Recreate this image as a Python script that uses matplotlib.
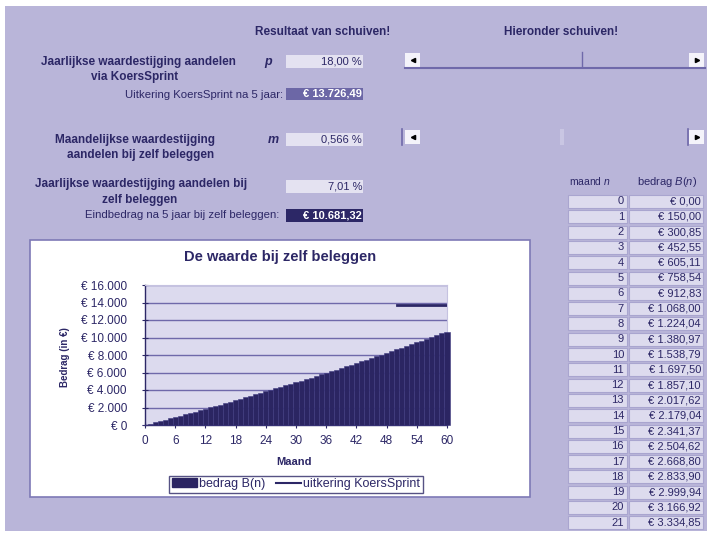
import matplotlib
matplotlib.use("Agg")
import matplotlib.pyplot as plt
from matplotlib.patches import Rectangle, Patch
from matplotlib.lines import Line2D
from matplotlib.ticker import FuncFormatter

plt.rcParams['font.family'] = ['Liberation Sans', 'DejaVu Sans']
plt.rcParams['mathtext.fontset'] = 'custom'
plt.rcParams['mathtext.it'] = 'Liberation Sans:italic'
plt.rcParams['mathtext.rm'] = 'Liberation Sans'

# data
maand = list(range(61))
bedrag = [0.00, 150.00, 300.85, 452.55, 605.11, 758.54, 912.83, 1068.00, 1224.04,
          1380.97, 1538.79, 1697.50, 1857.10, 2017.62, 2179.04, 2341.37, 2504.62,
          2668.80, 2833.90, 2999.94, 3166.92, 3334.85, 3503.72, 3673.55, 3844.35,
          4016.10, 4188.84, 4362.54, 4537.24, 4712.92, 4889.59, 5067.27, 5245.95,
          5425.64, 5606.35, 5788.08, 5970.84, 6154.64, 6339.47, 6525.35, 6712.29,
          6900.28, 7089.34, 7279.46, 7470.66, 7662.95, 7856.32, 8050.79, 8246.35,
          8443.03, 8640.82, 8839.72, 9039.76, 9240.92, 9443.23, 9646.67, 9851.27,
          10057.03, 10263.96, 10472.05, 10681.32]
uitkering_maand = [50, 60]
uitkering = [13726.49, 13726.49]
yticks = list(range(0, 16001, 2000))
xticks = list(range(0, 61, 6))
tabel_rijen = 22

p_tekst = "18,00 %"
m_tekst = "0,566 %"
jaar_tekst = "7,01 %"
uitkering_tekst = "€ 13.726,49"
eind_tekst = "€ 10.681,32"

BG = '#b9b5d9'
CEL = '#e4e2f1'
NAVY = '#2c2766'
BAR = '#2b2562'


def euro(v, dec=2):
    s = f"{v:,.{dec}f}".replace(",", "X").replace(".", ",").replace("X", ".")
    return "€ " + s


W, H = 715, 533
fig = plt.figure(figsize=(W / 100, H / 100), dpi=100, facecolor='white')
bg = fig.add_axes([0, 0, 1, 1])
bg.set_xlim(0, W)
bg.set_ylim(H, 0)
bg.axis('off')

bg.add_patch(Rectangle((5, 6), 702, 525, facecolor=BG, edgecolor='none'))

# headings
bg.text(323, 32, "Resultaat van schuiven!", ha='center', va='center', fontsize=8.5, weight='bold', color=NAVY)
bg.text(561, 32, "Hieronder schuiven!", ha='center', va='center', fontsize=8.5, weight='bold', color=NAVY)

# labels left
lbl = dict(ha='center', va='center', fontsize=8.5, weight='bold', color=NAVY)
bg.text(138, 62, "Jaarlijkse waardestijging aandelen", **lbl)
bg.text(135, 77, "via KoersSprint", **lbl)
bg.text(135, 140, "Maandelijkse waardestijging", **lbl)
bg.text(141, 155, "aandelen bij zelf beleggen", **lbl)
bg.text(141, 184, "Jaarlijkse waardestijging aandelen bij", **lbl)
bg.text(140, 200, "zelf beleggen", **lbl)
bg.text(268, 62, "p", ha='center', va='center', fontsize=9, weight='bold', style='italic', color=NAVY)
bg.text(273, 140, "m", ha='center', va='center', fontsize=9, weight='bold', style='italic', color=NAVY)
bg.text(283, 95, "Uitkering KoersSprint na 5 jaar:", ha='right', va='center', fontsize=8.2, color=NAVY)
bg.text(279, 215, "Eindbedrag na 5 jaar bij zelf beleggen:", ha='right', va='center', fontsize=8.2, color=NAVY)

# value cells
for y0, txt in [(55, p_tekst), (133, m_tekst), (180, jaar_tekst)]:
    bg.add_patch(Rectangle((286, y0), 77, 13, facecolor=CEL, edgecolor='none'))
    bg.text(362, y0 + 6.5, txt, ha='right', va='center', fontsize=8, color=NAVY)
bg.add_patch(Rectangle((286, 88), 77, 12, facecolor='#6c67a6', edgecolor='none'))
bg.text(362, 94, uitkering_tekst, ha='right', va='center', fontsize=8, weight='bold', color='white')
bg.add_patch(Rectangle((286, 209), 77, 13, facecolor=NAVY, edgecolor='none'))
bg.text(362, 215.5, eind_tekst, ha='right', va='center', fontsize=8, weight='bold', color='white')

# scrollbars
bg.plot([405, 705], [68, 68], color='#6f69aa', lw=1.5)
bg.plot([582, 582], [52, 67], color='#6f69aa', lw=1)
bg.plot([402, 402], [129, 145], color='#6f69aa', lw=1.2)
bg.plot([688, 688], [129, 145], color='#6f69aa', lw=1.2)
bg.add_patch(Rectangle((560, 129), 4, 16, facecolor='#c9c6e3', edgecolor='none'))
for x0, y0, mk in [(405, 53, '<'), (689, 53, '>'), (405, 130, '<'), (689, 130, '>')]:
    bg.add_patch(Rectangle((x0, y0), 15, 14, facecolor='#f4f3fa', edgecolor='none'))
    bg.plot(x0 + 7.5, y0 + 7, marker=mk, color='black', ms=3)

# table
bg.text(590, 185, r"maand $n$", ha='center', va='baseline', fontsize=7.5, color=NAVY)
bg.text(667, 185, r"bedrag $B(n)$", ha='center', va='baseline', fontsize=8, color=NAVY)
for i in range(tabel_rijen):
    yc = 201.5 + i * 15.3
    bg.add_patch(Rectangle((568, yc - 6.5), 59, 13, facecolor='#dddbee', edgecolor='#a9a5cf', lw=0.8))
    bg.add_patch(Rectangle((629, yc - 6.5), 74, 13, facecolor='#dddbee', edgecolor='#a9a5cf', lw=0.8))
    bg.text(624, yc, str(maand[i]), ha='right', va='center', fontsize=8, color=NAVY)
    bg.text(701, yc, euro(bedrag[i]), ha='right', va='center', fontsize=8, color=NAVY)

# chart frame
bg.add_patch(Rectangle((30, 240), 500, 257, facecolor='white', edgecolor='#7e79b6', lw=1.2))
bg.text(280, 257, "De waarde bij zelf beleggen", ha='center', va='center', fontsize=10.5, weight='bold', color=NAVY)
bg.text(294, 462, "Maand", ha='center', va='center', fontsize=8, weight='bold', color=NAVY)
bg.text(65, 357, "Bedrag (in €)", ha='center', va='center', rotation=90, fontsize=7, weight='bold', color=NAVY)

ax = fig.add_axes([145 / W, (H - 425) / H, 302 / W, 140 / H])
ax.set_facecolor('#dcdaee')
ax.bar(maand, bedrag, width=1.0, color=BAR, edgecolor='#3e3980', lw=0.4, zorder=3, clip_on=False)
ax.plot(uitkering_maand, uitkering, color=NAVY, lw=2, zorder=4)
ax.set_xlim(0, 60)
ax.set_ylim(0, 16000)
ax.set_yticks(yticks)
ax.set_xticks(xticks)
ax.yaxis.set_major_formatter(FuncFormatter(lambda v, pos: euro(v, 0)))
ax.grid(axis='y', color='#6f69aa', lw=1, zorder=1)
ax.tick_params(axis='both', colors=NAVY, labelcolor=NAVY, labelsize=8.5, direction='inout', length=4, width=0.8)
ax.tick_params(axis='y', pad=11)
ax.tick_params(axis='x', pad=5)
for side in ['left', 'bottom']:
    ax.spines[side].set_color(NAVY)
    ax.spines[side].set_linewidth(1)
for side in ['right', 'top']:
    ax.spines[side].set_color('#c5c2e0')
    ax.spines[side].set_linewidth(0.8)

handles = [Patch(facecolor=BAR, edgecolor=BAR), Line2D([], [], color=NAVY, lw=1.5)]
leg = fig.legend(handles, ["bedrag B(n)", "uitkering KoersSprint"], loc='center',
                 bbox_to_anchor=(296 / W, (H - 484) / H), ncol=2, fontsize=9,
                 frameon=True, fancybox=False, edgecolor=NAVY, borderpad=0.2,
                 handlelength=2.0, handletextpad=0.15, columnspacing=0.9, borderaxespad=0)
leg.get_frame().set_linewidth(1)
for t in leg.get_texts():
    t.set_color(NAVY)

fig.savefig("out.png", dpi=100, facecolor='white')
